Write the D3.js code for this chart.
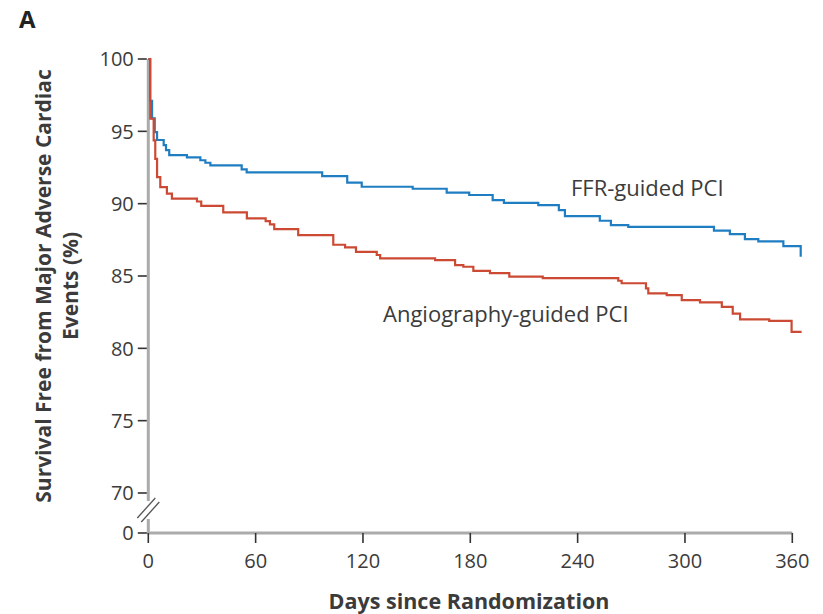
<!DOCTYPE html>
<html>
<head>
<meta charset="utf-8">
<script src="https://cdn.jsdelivr.net/npm/d3@7"></script>
<style>
    body { margin: 0; background: #fff; }
    text { font-family: "Open Sans", sans-serif; fill: #3b3b3b; }
</style>
</head>
<body>
<div id="chart"></div>
<script>
// Kaplan-Meier steps: [day, survival %] (value holds from that day on)
const ffrGuided = [
    [0, 100], [1.0, 97.1], [2.1, 95.9], [3.6, 94.95], [4.9, 94.4], [8.6, 94.05],
    [9.9, 93.7], [11.7, 93.35], [21.6, 93.2], [29.1, 93.0], [31.9, 92.83], [34.7, 92.65],
    [52.2, 92.37], [55.0, 92.16], [97.2, 91.9], [111.2, 91.45], [119.3, 91.17],
    [147.8, 91.03], [166.8, 90.76], [179.4, 90.6], [192.5, 90.25], [198.8, 90.06],
    [218.0, 89.9], [229.5, 89.56], [232.9, 89.14], [252.4, 88.82], [258.6, 88.52],
    [268.3, 88.4], [316.2, 88.13], [325.1, 87.9], [333.5, 87.55], [341.0, 87.4],
    [355.0, 87.07], [364.7, 86.33]
];
const angioGuided = [
    [0, 100], [1.1, 95.87], [3.0, 94.38], [3.9, 93.1], [4.9, 91.84], [6.7, 91.15],
    [10.4, 90.7], [13.2, 90.35], [27.2, 90.15], [29.6, 89.85], [41.9, 89.4],
    [55.1, 88.98], [65.6, 88.8], [68.0, 88.57], [70.4, 88.24], [83.8, 87.83],
    [103.4, 87.16], [110.0, 86.98], [116.1, 86.67], [127.7, 86.45], [129.6, 86.22],
    [160.3, 86.1], [171.5, 85.75], [176.1, 85.64], [181.7, 85.36], [191.0, 85.2],
    [201.8, 84.95], [220.5, 84.85], [262.7, 84.67], [264.6, 84.5], [278.2, 84.14],
    [279.5, 83.8], [289.8, 83.68], [298.2, 83.33], [308.4, 83.17], [320.6, 82.87],
    [326.7, 82.4], [330.8, 82.0], [347.1, 81.9], [359.6, 81.14], [365.2, 81.14]
];
const xTicks = [0, 60, 120, 180, 240, 300, 360];
const yTicks = [70, 75, 80, 85, 90, 95, 100];
const seriesNames = ["FFR-guided PCI", "Angiography-guided PCI"];

const width = 823, height = 614;
const blue = "#1f7dc2", red = "#cc4a33", axisGrey = "#ababab", tickColor = "#333";

const svg = d3.select("#chart").append("svg")
    .attr("width", width)
    .attr("height", height);

const x = d3.scaleLinear().domain([0, 360]).range([148.3, 792.3]);
const y = d3.scaleLinear().domain([70, 100]).range([493, 59]);
const yZero = 533; // position of the "0" below the axis break

// axis lines (grey), with a gap for the break
svg.append("line")
    .attr("x1", x(0)).attr("x2", x(0))
    .attr("y1", y(100)).attr("y2", 501)
    .style("stroke", axisGrey).style("stroke-width", "3px");
svg.append("line")
    .attr("x1", x(0)).attr("x2", x(0))
    .attr("y1", 519).attr("y2", yZero)
    .style("stroke", axisGrey).style("stroke-width", "3px");
svg.append("line")
    .attr("x1", x(0) - 1.5).attr("x2", x(360))
    .attr("y1", yZero).attr("y2", yZero)
    .style("stroke", axisGrey).style("stroke-width", "3px");

// break marks
[0, 4].forEach(off => {
    svg.append("line")
        .attr("x1", x(0) - 11 + off).attr("y1", 518 + off)
        .attr("x2", x(0) + 7 + off).attr("y2", 498 + off)
        .style("stroke", "#555").style("stroke-width", "1.3px");
});

// y ticks
const yAxis = svg.append("g").attr("class", "yAxis");
const yt = yAxis.selectAll(".tick")
    .data(yTicks.map(v => ({ label: v, pos: y(v) })).concat([{ label: 0, pos: yZero }]))
    .enter().append("g")
    .attr("transform", d => `translate(${x(0) - 1.5}, ${d.pos})`);
yt.append("line")
    .attr("x1", -9).attr("x2", 0)
    .style("stroke", tickColor).style("stroke-width", "1.6px");
yt.append("text")
    .attr("x", -13)
    .attr("dy", "0.36em")
    .attr("text-anchor", "end")
    .style("font-size", "20px")
    .text(d => d.label);

// x ticks
const xt = svg.append("g").attr("class", "xAxis")
    .selectAll(".tick")
    .data(xTicks)
    .enter().append("g")
    .attr("transform", d => `translate(${x(d)}, ${yZero})`);
xt.append("line")
    .attr("y1", 0).attr("y2", 10)
    .style("stroke", tickColor).style("stroke-width", "1.6px");
xt.append("text")
    .attr("y", 35)
    .attr("text-anchor", "middle")
    .style("font-size", "20px")
    .text(d => d);

// survival curves
const kmLine = d3.line()
    .x(d => x(d[0]))
    .y(d => y(d[1]))
    .curve(d3.curveStepAfter);

[[ffrGuided, blue], [angioGuided, red]].forEach(([data, color]) => {
    svg.append("path")
        .datum(data)
        .attr("d", kmLine)
        .style("fill", "none")
        .style("stroke", color)
        .style("stroke-width", "2.2px");
});

// series labels
svg.append("text")
    .attr("x", 571).attr("y", 196)
    .style("font-size", "22px")
    .text(seriesNames[0]);
svg.append("text")
    .attr("x", 383).attr("y", 322)
    .style("font-size", "22px")
    .text(seriesNames[1]);

// axis titles
svg.append("text")
    .attr("x", 469).attr("y", 609)
    .attr("text-anchor", "middle")
    .style("font-size", "21.5px")
    .style("font-weight", "bold")
    .text("Days since Randomization");

const yTitle = svg.append("text")
    .attr("transform", "translate(0, 286) rotate(-90)")
    .attr("text-anchor", "middle")
    .style("font-size", "21px")
    .style("font-weight", "bold");
yTitle.append("tspan").attr("x", 0).attr("y", 51).text("Survival Free from Major Adverse Cardiac");
yTitle.append("tspan").attr("x", 0).attr("y", 78).text("Events (%)");

// panel letter
svg.append("text")
    .attr("x", 19).attr("y", 28)
    .style("font-size", "24px")
    .style("font-weight", "bold")
    .style("fill", "#222")
    .text("A");
</script>
</body>
</html>
